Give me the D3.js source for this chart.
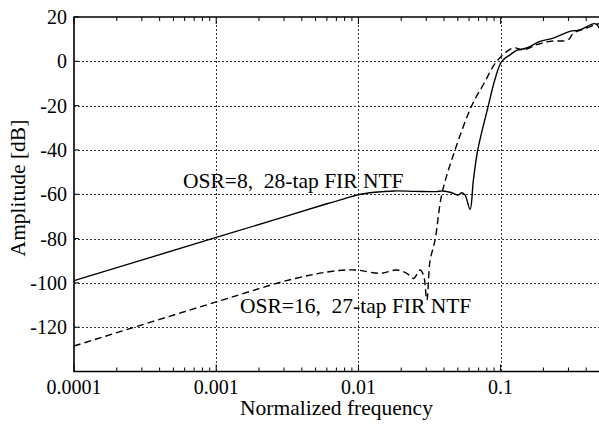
<!DOCTYPE html>
<html>
<head>
<meta charset="utf-8">
<script src="https://cdn.jsdelivr.net/npm/d3@7"></script>
<style>
  body { margin: 0; background: #fff; }
</style>
</head>
<body>
<div id="graph"></div>
<script>
// OSR=8, 28-tap FIR NTF (solid)
const freqSolid = [0.0001, 0.001, 0.003, 0.006, 0.008, 0.01, 0.013, 0.018, 0.025, 0.035, 0.0394, 0.0453, 0.0505, 0.0533, 0.0562, 0.0610, 0.0643, 0.0691, 0.0820, 0.0914, 0.1018, 0.1164, 0.1298, 0.1525, 0.189, 0.2346, 0.3073, 0.3614, 0.461, 0.5];
const ampSolid  = [-99, -79.5, -70.2, -64.3, -62, -60.2, -59.1, -58.5, -58.7, -58.8, -58.5, -59.3, -60.3, -59.3, -60.3, -66.8, -53.9, -40, -20, -8, 0, 2.9, 4.9, 6, 9, 10.5, 13.5, 14.2, 17, 14.5];

// OSR=16, 27-tap FIR NTF (dashed)
const freqDashed = [0.0001, 0.001, 0.00349, 0.00705, 0.00975, 0.0142, 0.0186, 0.0219, 0.0244, 0.0271, 0.0287, 0.0303, 0.0319, 0.0346, 0.0386, 0.0478, 0.0627, 0.0764, 0.094, 0.1228, 0.1445, 0.1794, 0.2224, 0.299, 0.3246, 0.4027, 0.461, 0.5];
const ampDashed  = [-128.5, -108.6, -98.2, -94.5, -94.2, -95.7, -94.2, -95.7, -98, -94.2, -96.5, -107.8, -90, -80.7, -60, -40, -20, -10, 0, 6, 5.2, 7.5, 9, 9.7, 12.7, 15, 16.5, 17];

const xTicks = [0.0001, 0.001, 0.01, 0.1];
const xTickLabels = ["0.0001", "0.001", "0.01", "0.1"];
const yTicks = [20, 0, -20, -40, -60, -80, -100, -120];

const width = 599, height = 425;
const margin = {top: 17, right: -1, bottom: 53.5, left: 74};
const FONT = '"Liberation Serif"';

let svg = d3.select("#graph")
    .append("svg")
    .attr("width", width)
    .attr("height", height);

let x = d3.scaleLog()
    .domain([0.0001, 0.5])
    .range([margin.left, width - margin.right]);

let y = d3.scaleLinear()
    .domain([-140, 20])
    .range([height - margin.bottom, margin.top]);

// dotted grid
let grid = svg.append("g")
    .attr("stroke", "#333")
    .attr("stroke-width", 1)
    .attr("stroke-dasharray", "2,2");
grid.selectAll("line.v").data(xTicks.slice(1)).enter()
    .append("line")
    .attr("x1", d => Math.round(x(d)) + 0.5).attr("x2", d => Math.round(x(d)) + 0.5)
    .attr("y1", margin.top).attr("y2", height - margin.bottom);
grid.selectAll("line.h").data(yTicks.slice(1)).enter()
    .append("line")
    .attr("x1", margin.left).attr("x2", width)
    .attr("y1", d => Math.round(y(d)) + 0.5).attr("y2", d => Math.round(y(d)) + 0.5);

// minor x ticks on top and bottom, inward
let minor = [];
for (let e = -4; e <= -1; e++) {
    for (let m = 2; m <= 9; m++) {
        let v = m * Math.pow(10, e);
        if (v <= 0.5) minor.push(v);
    }
}
let ticks = svg.append("g").attr("stroke", "#000").attr("stroke-width", 1);
ticks.selectAll("line.bm").data(minor).enter().append("line")
    .attr("x1", d => x(d)).attr("x2", d => x(d))
    .attr("y1", y(-140)).attr("y2", y(-140) - 4);
ticks.selectAll("line.tm").data(minor).enter().append("line")
    .attr("x1", d => x(d)).attr("x2", d => x(d))
    .attr("y1", y(20)).attr("y2", y(20) + 4);
ticks.selectAll("line.bM").data(xTicks).enter().append("line")
    .attr("x1", d => x(d)).attr("x2", d => x(d))
    .attr("y1", y(-140)).attr("y2", y(-140) - 7);
ticks.selectAll("line.tM").data(xTicks).enter().append("line")
    .attr("x1", d => x(d)).attr("x2", d => x(d))
    .attr("y1", y(20)).attr("y2", y(20) + 7);
ticks.selectAll("line.yM").data(yTicks).enter().append("line")
    .attr("x1", margin.left).attr("x2", margin.left + 5)
    .attr("y1", d => y(d)).attr("y2", d => y(d));

// frame
svg.append("path")
    .attr("d", `M${width + 2},${y(20)}H${margin.left}V${y(-140)}H${width + 2}`)
    .attr("fill", "none")
    .attr("stroke", "#000")
    .attr("stroke-width", 1.6);

// tick labels
svg.selectAll("text.xl").data(xTicks).enter().append("text")
    .attr("x", d => x(d))
    .attr("y", 394)
    .attr("text-anchor", "middle")
    .style("font-family", FONT)
    .style("font-size", "20px")
    .text((d, i) => xTickLabels[i]);
svg.selectAll("text.yl").data(yTicks).enter().append("text")
    .attr("x", 67)
    .attr("y", d => y(d) + 7)
    .attr("text-anchor", "end")
    .style("font-family", FONT)
    .style("font-size", "20px")
    .text(d => d);

// axis titles
svg.append("text")
    .attr("x", (margin.left + width) / 2)
    .attr("y", 415)
    .attr("text-anchor", "middle")
    .style("font-family", FONT)
    .style("font-size", "21.5px")
    .text("Normalized frequency");
svg.append("text")
    .attr("transform", `translate(25, 188) rotate(-90)`)
    .attr("text-anchor", "middle")
    .style("font-family", FONT)
    .style("font-size", "21.5px")
    .text("Amplitude [dB]");

// curves
let line = d3.line()
    .x(d => x(d[0]))
    .y(d => y(d[1]))
    .curve(d3.curveCatmullRom.alpha(0.5));

svg.append("path")
    .datum(d3.zip(freqSolid, ampSolid))
    .attr("d", line)
    .attr("fill", "none")
    .attr("stroke", "#000")
    .attr("stroke-width", 1.4);

svg.append("path")
    .datum(d3.zip(freqDashed, ampDashed))
    .attr("d", line)
    .attr("fill", "none")
    .attr("stroke", "#000")
    .attr("stroke-width", 1.4)
    .attr("stroke-dasharray", "7,4");

// annotations
svg.append("text")
    .attr("x", 183)
    .attr("y", 188)
    .style("white-space", "pre")
    .style("font-family", FONT)
    .style("font-size", "21.5px")
    .text("OSR=8,  28-tap FIR NTF");
svg.append("text")
    .attr("x", 240)
    .attr("y", 313)
    .style("white-space", "pre")
    .style("font-family", FONT)
    .style("font-size", "21.5px")
    .text("OSR=16,  27-tap FIR NTF");
</script>
</body>
</html>
